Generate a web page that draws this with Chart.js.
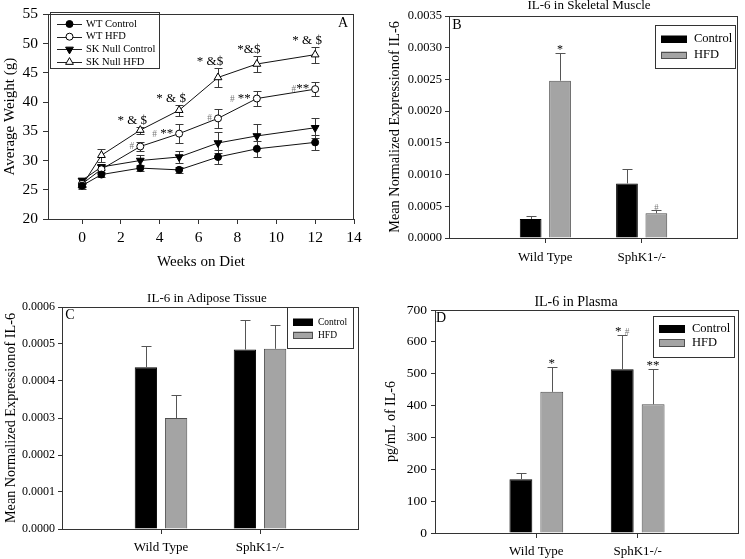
<!DOCTYPE html>
<html>
<head>
<meta charset="utf-8">
<script src="https://cdn.jsdelivr.net/npm/chart.js@4.4.0/dist/chart.umd.min.js"></script>
<style>
  html, body { margin: 0; padding: 0; background: #fff; }
  #fig { position: relative; width: 745px; height: 559px; }
  canvas { position: absolute; }
</style>
</head>
<body>
<div id="fig">
  <canvas id="chartA" width="372" height="280" style="left:0px;top:0px"></canvas>
  <canvas id="chartB" width="373" height="280" style="left:372px;top:0px"></canvas>
  <canvas id="chartC" width="372" height="279" style="left:0px;top:280px"></canvas>
  <canvas id="chartD" width="373" height="279" style="left:372px;top:280px"></canvas>
</div>
<script>
// panel A - body weight
const weeks = [0, 1, 3, 5, 7, 9, 12];
const weekTicks = [0, 2, 4, 6, 8, 10, 12, 14];
const weightTicks = [20, 25, 30, 35, 40, 45, 50, 55];
const wtControl = [25.7, 27.6, 28.7, 28.4, 30.6, 32.0, 33.1];
const wtControlErr = [0.3, 0.4, 0.5, 0.5, 1.2, 1.4, 1.3];
const wtHfd = [26.0, 28.5, 32.4, 34.6, 37.2, 40.6, 42.2];
const wtHfdErr = [0.4, 0.7, 0.7, 1.6, 1.6, 1.25, 1.2];
const skControl = [26.6, 28.9, 30.0, 30.6, 33.0, 34.2, 35.6];
const skControlErr = [0.4, 0.5, 0.9, 1.0, 1.8, 2.1, 1.7];
const skHfd = [25.7, 30.9, 35.2, 38.6, 44.2, 46.5, 48.1];
const skHfdErr = [0.5, 1.1, 0.6, 0.95, 1.6, 1.4, 1.35];
const wtHfdNotes = ['', '', '#', '# **', '#', '# **', '#**'];
const skHfdNotes = ['', '', '* & $', '* & $', '* &$', '*&$', '* & $'];

// panels B-D - IL-6
const groups = ['Wild Type', 'SphK1-/-'];
const muscleTicks = [0, 0.0005, 0.001, 0.0015, 0.002, 0.0025, 0.003, 0.0035];
const muscleControl = [0.00030, 0.00086];
const muscleControlErr = [0.00005, 0.00022];
const muscleHfd = [0.00248, 0.00039];
const muscleHfdErr = [0.00043, 0.00005];
const muscleHfdNotes = ['*', '#'];

const adiposeTicks = [0, 0.0001, 0.0002, 0.0003, 0.0004, 0.0005, 0.0006];
const adiposeControl = [0.000437, 0.000485];
const adiposeControlErr = [0.000057, 0.00008];
const adiposeHfd = [0.000300, 0.000487];
const adiposeHfdErr = [0.000062, 0.000063];

const plasmaTicks = [0, 100, 200, 300, 400, 500, 600, 700];
const plasmaControl = [169, 514];
const plasmaControlErr = [18, 107];
const plasmaHfd = [443, 404];
const plasmaHfdErr = [77, 112];
const plasmaControlNotes = ['', '* #'];
const plasmaHfdNotes = ['*', '**'];

const SERIF = '"Liberation Serif", "Times New Roman", serif';
Chart.defaults.font.family = SERIF;
Chart.defaults.color = '#000';

function drawRich(ctx, text, x, y, align, size) {
  const parts = [...text].map(ch => {
    const hash = ch === '#';
    const font = (hash ? size * 0.72 : size) + 'px ' + SERIF;
    ctx.font = font;
    return { ch, font, color: hash ? '#777' : '#000', w: ctx.measureText(ch).width };
  });
  const total = parts.reduce((s, p) => s + p.w, 0);
  let cx = align === 'right' ? x - total : align === 'center' ? x - total / 2 : x;
  ctx.textAlign = 'left';
  ctx.textBaseline = 'alphabetic';
  parts.forEach(p => {
    ctx.font = p.font;
    ctx.fillStyle = p.color;
    ctx.fillText(p.ch, cx, y);
    cx += p.w;
  });
}

function valueOf(d) {
  return d !== null && typeof d === 'object' ? d.y : d;
}

function drawErrors(chart, o) {
  const ctx = chart.ctx;
  const ys = chart.scales.y;
  ctx.save();
  ctx.strokeStyle = o.color;
  ctx.lineWidth = 1;
  chart.data.datasets.forEach((ds, di) => {
    if (!ds.errors) return;
    chart.getDatasetMeta(di).data.forEach((el, i) => {
      const v = valueOf(ds.data[i]);
      const e = ds.errors[i];
      if (v == null || e == null) return;
      const x = Math.round(el.x) + 0.5;
      const top = Math.round(ys.getPixelForValue(v + e)) + 0.5;
      const bottom = o.twoSided ? Math.round(ys.getPixelForValue(v - e)) + 0.5 : el.y;
      ctx.beginPath();
      ctx.moveTo(x, top);
      ctx.lineTo(x, bottom);
      ctx.moveTo(x - o.cap, top);
      ctx.lineTo(x + o.cap, top);
      if (o.twoSided) {
        ctx.moveTo(x - o.cap, bottom);
        ctx.lineTo(x + o.cap, bottom);
      }
      ctx.stroke();
    });
  });
  ctx.restore();
}

function drawNotes(chart, o) {
  const ctx = chart.ctx;
  const ys = chart.scales.y;
  ctx.save();
  chart.data.datasets.forEach((ds, di) => {
    if (!ds.notes) return;
    chart.getDatasetMeta(di).data.forEach((el, i) => {
      const t = ds.notes[i];
      if (!t) return;
      const v = valueOf(ds.data[i]);
      const ref = ds.noteFrom === 'point' ? el.y : ys.getPixelForValue(v + ds.errors[i]);
      drawRich(ctx, t, el.x + (ds.noteDx || 0), ref + (ds.noteDy || 0), ds.noteAlign || 'center', o.size);
    });
  });
  ctx.restore();
}

function drawLegend(chart, lg) {
  const ctx = chart.ctx;
  ctx.save();
  ctx.strokeStyle = '#333';
  ctx.lineWidth = 1;
  ctx.strokeRect(lg.x + 0.5, lg.y + 0.5, lg.w, lg.h);
  chart.data.datasets.forEach((ds, i) => {
    const ry = lg.y + lg.first + i * lg.gap;
    if (lg.kind === 'line') {
      ctx.strokeStyle = '#222';
      ctx.beginPath();
      ctx.moveTo(lg.x + lg.sx, Math.round(ry) + 0.5);
      ctx.lineTo(lg.x + lg.sx + lg.sw, Math.round(ry) + 0.5);
      ctx.stroke();
      ctx.fillStyle = ds.pointBackgroundColor;
      ctx.strokeStyle = ds.pointBorderColor;
      ctx.lineWidth = 1;
      Chart.helpers.drawPoint(ctx, {
        pointStyle: ds.pointStyle, rotation: ds.pointRotation || 0,
        radius: ds.pointRadius, borderWidth: 1
      }, lg.x + lg.sx + lg.sw / 2, ry);
    } else {
      ctx.fillStyle = ds.backgroundColor;
      ctx.strokeStyle = ds.borderColor;
      ctx.fillRect(lg.x + lg.sx, ry - lg.sh / 2, lg.sw, lg.sh);
      ctx.strokeRect(lg.x + lg.sx + 0.5, Math.round(ry - lg.sh / 2) + 0.5, lg.sw - 1, lg.sh - 1);
    }
    ctx.fillStyle = '#000';
    ctx.font = lg.size + 'px ' + SERIF;
    ctx.textAlign = 'left';
    ctx.textBaseline = 'middle';
    ctx.fillText(ds.label, lg.x + lg.tx, ry);
  });
  ctx.restore();
}

const extras = {
  id: 'extras',
  beforeDatasetsDraw(chart, args, o) {
    if (o.errors && o.errors.behind) drawErrors(chart, o.errors);
  },
  afterDatasetsDraw(chart, args, o) {
    if (o.errors && !o.errors.behind) drawErrors(chart, o.errors);
    if (o.notes) drawNotes(chart, o.notes);
  },
  afterDraw(chart, args, o) {
    const ctx = chart.ctx;
    const a = chart.chartArea;
    ctx.save();
    ctx.strokeStyle = '#333';
    ctx.lineWidth = 1;
    ctx.strokeRect(Math.round(a.left) + 0.5, Math.round(a.top) + 0.5,
      Math.round(a.right - a.left) - 1, Math.round(a.bottom - a.top));
    ctx.fillStyle = '#000';
    ctx.textAlign = 'center';
    ctx.textBaseline = 'middle';
    [o.title, o.letter].forEach(t => {
      if (!t) return;
      ctx.font = t.size + 'px ' + SERIF;
      ctx.fillText(t.text, t.x, t.y);
    });
    ctx.restore();
    if (o.legend) drawLegend(chart, o.legend);
  }
};

function yScale(tickValues, o) {
  return {
    min: tickValues[0],
    max: tickValues[tickValues.length - 1],
    afterBuildTicks: s => { s.ticks = tickValues.map(v => ({ value: v })); },
    afterFit: s => { s.width = o.width; },
    border: { display: false },
    grid: { drawOnChartArea: false, color: '#333', tickLength: o.tick },
    ticks: { font: { size: o.size }, padding: o.pad, callback: o.fmt },
    title: { display: true, text: o.title, font: { size: o.titleSize }, padding: { top: o.titlePad, bottom: 0 } }
  };
}

function lineSeries(label, values, errors, style, rotation, fill, radius, notes, noteOpts) {
  return Object.assign({
    label: label,
    data: weeks.map((w, i) => ({ x: w, y: values[i] })),
    errors: errors,
    notes: notes,
    showLine: true,
    borderColor: '#111',
    borderWidth: 1,
    pointStyle: style,
    pointRotation: rotation,
    pointRadius: radius,
    pointBackgroundColor: fill,
    pointBorderColor: '#000',
    pointBorderWidth: 1
  }, noteOpts || {});
}

new Chart(document.getElementById('chartA'), {
  type: 'scatter',
  data: {
    datasets: [
      lineSeries('WT Control', wtControl, wtControlErr, 'circle', 0, '#000', 3.5),
      lineSeries('WT HFD', wtHfd, wtHfdErr, 'circle', 0, '#fff', 3.5, wtHfdNotes,
        { noteFrom: 'point', noteAlign: 'right', noteDx: -6, noteDy: 3 }),
      lineSeries('SK Null Control', skControl, skControlErr, 'triangle', 180, '#000', 4.5),
      lineSeries('SK Null HFD', skHfd, skHfdErr, 'triangle', 0, '#fff', 4.5, skHfdNotes,
        { noteFrom: 'err', noteAlign: 'center', noteDx: -8, noteDy: -3 })
    ]
  },
  options: {
    responsive: false,
    animation: false,
    events: [],
    layout: { padding: { left: 0, top: 12, right: 18, bottom: 0 } },
    plugins: {
      legend: { display: false },
      tooltip: { enabled: false },
      extras: {
        errors: { behind: true, twoSided: true, cap: 4, color: '#3a3a3a' },
        notes: { size: 13 },
        letter: { text: 'A', x: 343, y: 23, size: 14 },
        legend: { kind: 'line', x: 50, y: 12, w: 109, h: 56, first: 12, gap: 12.7, sx: 7, sw: 25, tx: 36, size: 10.5 }
      }
    },
    scales: {
      x: {
        type: 'linear',
        min: -1.75,
        max: 14,
        afterBuildTicks: s => { s.ticks = weekTicks.map(v => ({ value: v })); },
        afterFit: s => { s.height = 61; },
        border: { display: false },
        grid: { drawOnChartArea: false, color: '#333', tickLength: 5 },
        ticks: { font: { size: 15.5 }, padding: 5, maxRotation: 0 },
        title: { display: true, text: 'Weeks on Diet', font: { size: 15 }, padding: { top: 0, bottom: 9 } }
      },
      y: yScale(weightTicks, { width: 48, tick: 5, size: 15.5, pad: 5, fmt: v => v,
        title: 'Average Weight (g)', titleSize: 15, titlePad: 1 })
    }
  },
  plugins: [extras]
});

function pad(arr) {
  return [null].concat(arr, [null]);
}

function barChart(id, o) {
  return new Chart(document.getElementById(id), {
    type: 'bar',
    data: {
      labels: pad(groups).map(g => g || ''),
      datasets: [
        {
          label: 'Control', data: pad(o.control), errors: pad(o.controlErr), notes: o.controlNotes ? pad(o.controlNotes) : null,
          backgroundColor: '#000', borderColor: '#000', borderWidth: 1,
          categoryPercentage: 0.61, barPercentage: 0.74
        },
        {
          label: 'HFD', data: pad(o.hfd), errors: pad(o.hfdErr), notes: o.hfdNotes ? pad(o.hfdNotes) : null,
          backgroundColor: '#a4a4a4', borderColor: '#4f4f4f', borderWidth: 1,
          categoryPercentage: 0.61, barPercentage: 0.74
        }
      ]
    },
    options: {
      responsive: false,
      animation: false,
      events: [],
      layout: { padding: o.padding },
      plugins: {
        legend: { display: false },
        tooltip: { enabled: false },
        extras: {
          errors: { behind: false, twoSided: false, cap: 5, color: '#555' },
          notes: { size: o.noteSize },
          title: o.title,
          letter: o.letter,
          legend: o.legend
        }
      },
      scales: {
        x: {
          offset: false,
          afterFit: s => { s.height = o.xHeight; },
          border: { display: false },
          grid: {
            offset: false, drawOnChartArea: false, tickLength: 5, color: '#333',
            tickColor: c => (c.index > 0 && c.index <= groups.length) ? '#333' : 'rgba(0,0,0,0)'
          },
          ticks: { font: { size: 13 }, padding: o.xPad, maxRotation: 0, autoSkip: false }
        },
        y: yScale(o.ticks, o.y)
      }
    },
    plugins: [extras]
  });
}

barChart('chartB', {
  control: muscleControl, controlErr: muscleControlErr,
  hfd: muscleHfd, hfdErr: muscleHfdErr, hfdNotes: muscleHfdNotes,
  ticks: muscleTicks,
  padding: { left: 0, top: 16, right: 1, bottom: 0 },
  xHeight: 42, xPad: 7, noteSize: 12,
  y: { width: 77, tick: 4, size: 12.5, pad: 3, fmt: v => v.toFixed(4),
    title: 'Mean Normalized Expressionof IL-6', titleSize: 14.3, titlePad: 15 },
  title: { text: 'IL-6 in Skeletal Muscle', x: 217, y: 6, size: 13 },
  letter: { text: 'B', x: 85, y: 25, size: 14 },
  legend: { kind: 'box', x: 283, y: 25, w: 80, h: 43, first: 14, gap: 16, sx: 6, sw: 26, sh: 7, tx: 39, size: 12.5 }
});

barChart('chartC', {
  control: adiposeControl, controlErr: adiposeControlErr,
  hfd: adiposeHfd, hfdErr: adiposeHfdErr,
  ticks: adiposeTicks,
  padding: { left: 0, top: 27, right: 13, bottom: 0 },
  xHeight: 30, xPad: 6, noteSize: 12,
  y: { width: 62, tick: 4, size: 12, pad: 3, fmt: v => v.toFixed(4),
    title: 'Mean Normalized Expressionof IL-6', titleSize: 14.2, titlePad: 3 },
  title: { text: 'IL-6 in Adipose Tissue', x: 207, y: 19, size: 13 },
  letter: { text: 'C', x: 70, y: 35, size: 14 },
  legend: { kind: 'box', x: 287, y: 27, w: 66, h: 41, first: 15, gap: 13, sx: 6, sw: 20, sh: 7, tx: 31, size: 9.5 }
});

barChart('chartD', {
  control: plasmaControl, controlErr: plasmaControlErr, controlNotes: plasmaControlNotes,
  hfd: plasmaHfd, hfdErr: plasmaHfdErr, hfdNotes: plasmaHfdNotes,
  ticks: plasmaTicks,
  padding: { left: 0, top: 30, right: 2, bottom: 0 },
  xHeight: 26, xPad: 6, noteSize: 13,
  y: { width: 63, tick: 4, size: 13.5, pad: 4, fmt: v => v,
    title: 'pg/mL of IL-6', titleSize: 14, titlePad: 11 },
  title: { text: 'IL-6 in Plasma', x: 204, y: 22, size: 14 },
  letter: { text: 'D', x: 69, y: 38, size: 14 },
  legend: { kind: 'box', x: 281, y: 36, w: 81, h: 41, first: 13, gap: 14, sx: 6, sw: 26, sh: 8, tx: 39, size: 12.5 }
});
</script>
</body>
</html>
